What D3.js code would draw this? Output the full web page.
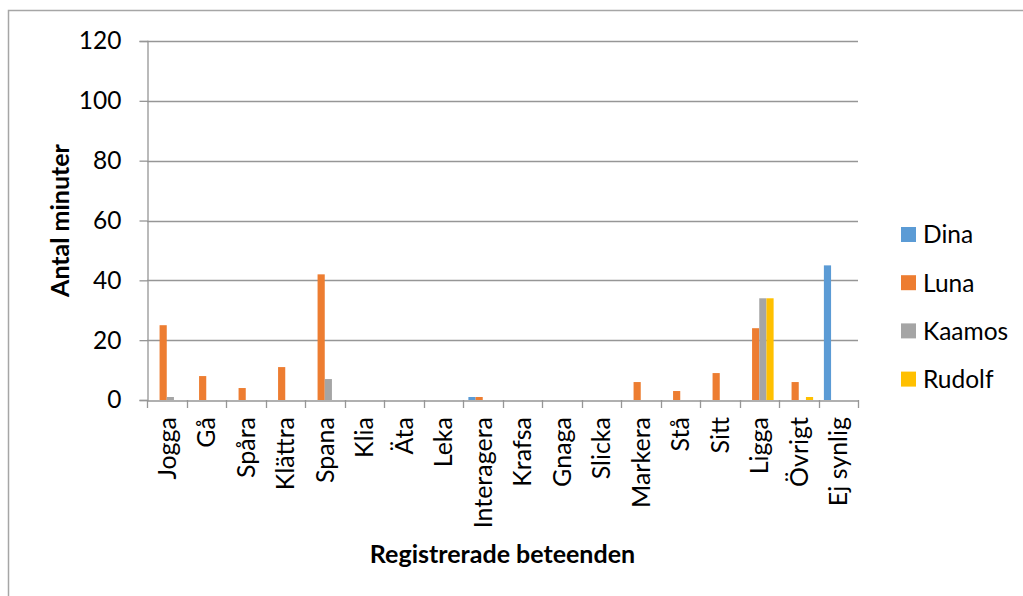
<!DOCTYPE html>
<html><head><meta charset="utf-8">
<script src="https://cdn.jsdelivr.net/npm/d3@7"></script>
<style>body{margin:0;background:#fff}svg{display:block}</style>
</head><body>
<svg id="c" width="1023" height="596"></svg>
<script>
const categories = ["Jogga","Gå","Spåra","Klättra","Spana","Klia","Äta","Leka","Interagera","Krafsa","Gnaga","Slicka","Markera","Stå","Sitt","Ligga","Övrigt","Ej synlig"];
const seriesNames = ["Dina","Luna","Kaamos","Rudolf"];
const dina   = [0,0,0,0,0,0,0,0,1,0,0,0,0,0,0,0,0,45];
const luna   = [25,8,4,11,42,0,0,0,1,0,0,0,6,3,9,24,6,0];
const kaamos = [1,0,0,0,7,0,0,0,0,0,0,0,0,0,0,34,0,0];
const rudolf = [0,0,0,0,0,0,0,0,0,0,0,0,0,0,0,34,1,0];
const yTicks = [0,20,40,60,80,100,120];
const colors = ["#5B9BD5","#ED7D31","#A5A5A5","#FFC000"];
const seriesValues = [dina,luna,kaamos,rudolf];

const font = "Lato, 'Open Sans', sans-serif";
const svg = d3.select("#c");
svg.append("rect").attr("x",8.5).attr("y",10.5).attr("width",1030).attr("height",600)
  .attr("fill","none").attr("stroke","#a6a6a6").attr("stroke-width",1.5);

const L=147, R=858, T=41, B=400;
const x = d3.scaleBand().domain(categories).range([L,R]).paddingInner(0).paddingOuter(0);
const y = d3.scaleLinear().domain([0,120]).range([B,T]);
const bw = x.bandwidth()/5.5;
const xs = d3.scaleBand().domain(seriesNames).range([bw*0.75, bw*4.75]);

// gridlines
svg.append("g").selectAll("line").data(yTicks.filter(d=>d>0)).join("line")
  .attr("x1",L).attr("x2",R).attr("y1",d=>Math.round(y(d))+0.5).attr("y2",d=>Math.round(y(d))+0.5)
  .attr("stroke","#969696").attr("stroke-width",1.3);

// bars
const g = svg.append("g");
seriesNames.forEach((s,i)=>{
  g.selectAll(null).data(categories.map((c,j)=>({c,v:seriesValues[i][j]})).filter(d=>d.v>0)).join("rect")
    .attr("x",d=>x(d.c)+xs(s)).attr("width",xs.bandwidth())
    .attr("y",d=>y(d.v)).attr("height",d=>B-y(d.v))
    .attr("fill",colors[i]);
});

// y axis
const ya = svg.append("g").attr("transform",`translate(${L+0.5},0)`)
  .call(d3.axisLeft(y).tickValues(yTicks).tickSize(8).tickPadding(18));
ya.select(".domain").attr("stroke","#969696").attr("stroke-width",1.3);
ya.selectAll(".tick line").attr("stroke","#969696").attr("stroke-width",1.3);
ya.selectAll("text").attr("font-family",font).attr("font-size",24.5).attr("fill","#000");

// x axis
const xa = svg.append("g").attr("transform",`translate(0,${B+0.5})`)
  .call(d3.axisBottom(x).tickSize(0).tickFormat(""));
xa.select(".domain").attr("stroke","#969696").attr("stroke-width",1.3);
xa.selectAll(".tick").remove();
svg.append("g").selectAll("line").data(categories.map(c=>x(c)).concat([R])).join("line")
  .attr("x1",d=>Math.round(d)+0.5).attr("x2",d=>Math.round(d)+0.5).attr("y1",B).attr("y2",B+8)
  .attr("stroke","#969696").attr("stroke-width",1.3);
svg.append("g").selectAll("text").data(categories).join("text")
  .attr("transform",d=>`translate(${x(d)+x.bandwidth()/2+9},417) rotate(-90)`)
  .attr("text-anchor","end").attr("font-family",font).attr("font-size",25).attr("fill","#000")
  .text(d=>d);

// axis titles
svg.append("text").attr("transform",`translate(69,${(T+B)/2}) rotate(-90)`)
  .attr("text-anchor","middle").attr("font-family",font).attr("font-weight","bold")
  .attr("font-size",25).attr("fill","#000").text("Antal minuter");
svg.append("text").attr("x",(L+R)/2).attr("y",563)
  .attr("text-anchor","middle").attr("font-family",font).attr("font-weight","bold")
  .attr("font-size",25).attr("fill","#000").text("Registrerade beteenden");

// legend
const lg = svg.append("g").selectAll("g").data(seriesNames).join("g")
  .attr("transform",(d,i)=>`translate(901,${227+i*48.2})`);
lg.append("rect").attr("width",15).attr("height",15).attr("fill",(d,i)=>colors[i]);
lg.append("text").attr("x",22).attr("y",7.5).attr("dy","0.36em")
  .attr("font-family",font).attr("font-size",24.5).attr("fill","#000").text(d=>d);
</script>
</body></html>
